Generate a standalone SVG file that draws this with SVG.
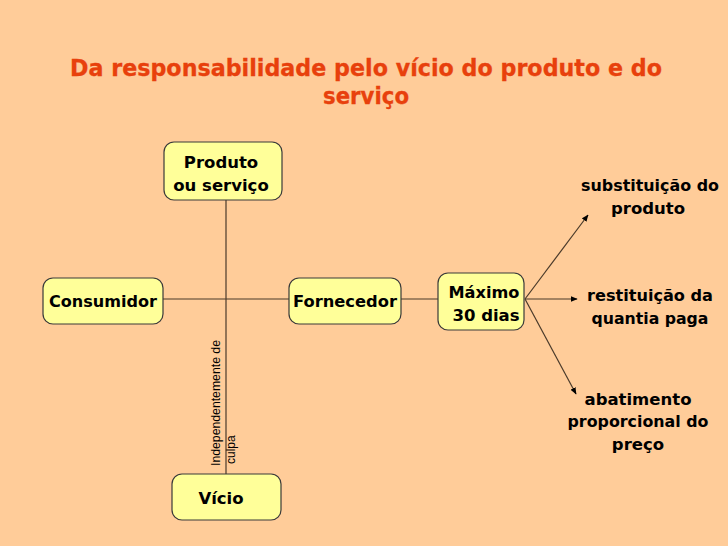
<svg xmlns="http://www.w3.org/2000/svg" width="728" height="546" viewBox="0 0 728 546">
<style>
.bg{fill:#FFCC99}
.box{fill:#FFFF99;stroke:#3a3a3a;stroke-width:1.2}
.t{font-family:"DejaVu Sans",Verdana,sans-serif;font-weight:bold;font-size:16.5px;fill:#000;text-anchor:middle}
.title{font-family:"DejaVu Sans",Verdana,sans-serif;font-weight:bold;font-size:23.5px;fill:#E8400C;stroke:#E8400C;stroke-width:0.3;text-anchor:middle}
.ln{stroke:#4a3a2a;stroke-width:1.2;fill:none}
.small{font-family:"Liberation Sans",Arial,sans-serif;font-size:12px;fill:#000}
</style>
<defs>
<marker id="ah" viewBox="0 0 10 10" refX="9" refY="5" markerWidth="7" markerHeight="7" orient="auto" markerUnits="userSpaceOnUse">
<path d="M0,1 L10,5 L0,9 z" fill="#000"/>
</marker>
</defs>
<rect class="bg" x="0" y="0" width="728" height="546"/>
<g id="title">
<text class="title" x="366" y="76" textLength="592" lengthAdjust="spacingAndGlyphs">Da responsabilidade pelo vício do produto e do</text>
<text class="title" x="366" y="104" textLength="86" lengthAdjust="spacingAndGlyphs">serviço</text>
</g>
<g id="connectors">
<line class="ln" x1="226" y1="200" x2="226" y2="474"/>
<line class="ln" x1="163" y1="299" x2="289" y2="299"/>
<line class="ln" x1="401" y1="299" x2="438" y2="299"/>
<line class="ln" x1="525" y1="299" x2="588" y2="215" marker-end="url(#ah)"/>
<line class="ln" x1="525" y1="299" x2="577" y2="299" marker-end="url(#ah)"/>
<line class="ln" x1="525" y1="299" x2="576" y2="394" marker-end="url(#ah)"/>
<text class="small" transform="translate(220,466) rotate(-90)" textLength="126" lengthAdjust="spacingAndGlyphs">Independentemente de</text>
<text class="small" transform="translate(235,464) rotate(-90)">culpa</text>
</g>
<g id="produto">
<rect class="box" x="164" y="142" width="118" height="58" rx="10"/>
<text class="t" x="221" y="168">Produto</text>
<text class="t" x="221" y="191">ou serviço</text>
</g>
<g id="consumidor">
<rect class="box" x="43" y="278" width="120" height="46" rx="10"/>
<text class="t" x="103" y="307" textLength="108" lengthAdjust="spacingAndGlyphs">Consumidor</text>
</g>
<g id="fornecedor">
<rect class="box" x="289" y="278" width="112" height="46" rx="10"/>
<text class="t" x="345" y="307" textLength="104" lengthAdjust="spacingAndGlyphs">Fornecedor</text>
</g>
<g id="maximo">
<rect class="box" x="438" y="273" width="86" height="57" rx="10"/>
<text class="t" x="484" y="298" textLength="71" lengthAdjust="spacingAndGlyphs">Máximo</text>
<text class="t" x="486" y="321">30 dias</text>
</g>
<g id="vicio">
<rect class="box" x="172" y="474" width="109" height="46" rx="10"/>
<text class="t" x="221" y="504">Vício</text>
</g>
<g id="substituicao">
<text class="t" x="650" y="191" textLength="138" lengthAdjust="spacingAndGlyphs">substituição do</text>
<text class="t" x="648" y="214">produto</text>
</g>
<g id="restituicao">
<text class="t" x="650" y="301" textLength="126" lengthAdjust="spacingAndGlyphs">restituição da</text>
<text class="t" x="650" y="324" textLength="117" lengthAdjust="spacingAndGlyphs">quantia paga</text>
</g>
<g id="abatimento">
<text class="t" x="638" y="405">abatimento</text>
<text class="t" x="638" y="427" textLength="141" lengthAdjust="spacingAndGlyphs">proporcional do</text>
<text class="t" x="638" y="450">preço</text>
</g>
</svg>
